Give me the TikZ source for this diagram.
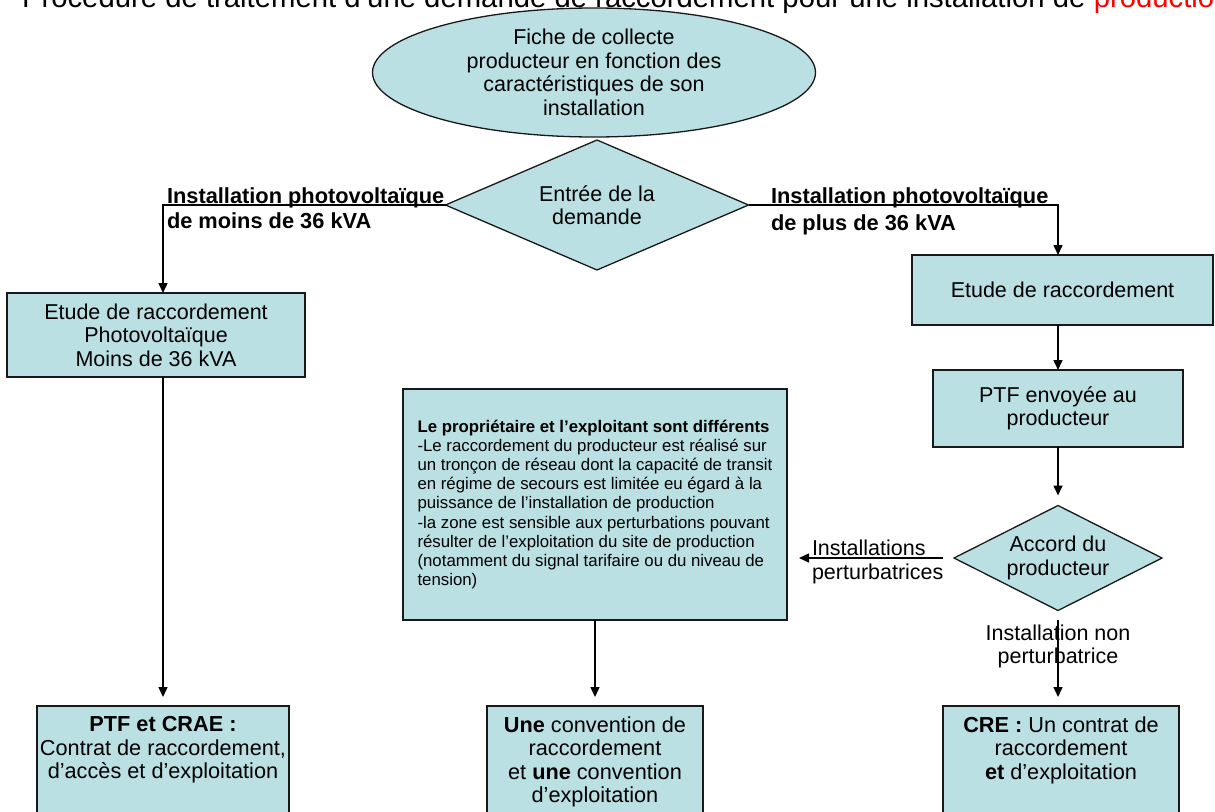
\documentclass[tikz,border=0pt]{standalone}
\usepackage{fontspec}
\setmainfont{Liberation Sans}
\usetikzlibrary{shapes.geometric,arrows.meta,calc}
\definecolor{boxfill}{RGB}{187,224,227}
\definecolor{boxline}{RGB}{25,25,25}
\begin{document}
\begin{tikzpicture}[x=1pt,y=-1pt,
  every node/.style={inner sep=0pt,outer sep=0pt},
  base/.style={draw=boxline,line width=1.3pt,fill=boxfill,align=center,font=\fontsize{21.5}{23.5}\selectfont},
  fbox/.style={base,rectangle},
  ell/.style={base,ellipse},
  dia/.style={base,diamond},
  lbl/.style={font=\bfseries\fontsize{21.8}{25}\selectfont},
  txt/.style={font=\fontsize{21.5}{23.5}\selectfont},
  btxt/.style={align=center,font=\fontsize{21.7}{23.5}\selectfont},
  arr/.style={line width=1.5pt,-{Triangle[length=10pt,width=9pt]}}]
\useasboundingbox (0,0) rectangle (1215,811);
\fill[white] (0,0) rectangle (1215,811);
\clip (0,0) rectangle (1215,811);

% title
\node[anchor=base west,font=\fontsize{29.3}{32}\selectfont] (title) at (22,8)
  {Procédure de traitement d’une demande de raccordement pour une installation de \textcolor{red}{production}};

% nodes
\node[ell,minimum width=443pt,minimum height=129pt] (fiche) at (594,72.5)
  {Fiche de collecte\\producteur en fonction des\\caractéristiques de son\\installation};
\node[dia,minimum width=303pt,minimum height=130pt,shape aspect=2.33] (entree) at (597,205)
  {Entrée de la\\demande};

\node[fbox,minimum width=298pt,minimum height=84pt] (etudeL) at (156,335)
  {Etude de raccordement\\Photovoltaïque\\Moins de 36 kVA};
\node[fbox,minimum width=301pt,minimum height=70pt] (etudeR) at (1062.5,290)
  {Etude de raccordement};
\node[fbox,minimum width=250pt,minimum height=77pt] (ptf) at (1058,408.5)
  {PTF envoyée au\\producteur};
\node[dia,minimum width=208pt,minimum height=105pt,shape aspect=1.98] (accord) at (1058,558)
  {Accord du\\producteur};

\node[fbox,align=left,minimum width=384pt,minimum height=231pt,font=\fontsize{16.8}{19.1}\selectfont] (mid) at (595,504.5)
  {\textbf{Le propriétaire et l’exploitant sont différents}\\
   -Le raccordement du producteur est réalisé sur\\
   un tronçon de réseau dont la capacité de transit\\
   en régime de secours est limitée eu égard à la\\
   puissance de l’installation de production\\
   -la zone est sensible aux perturbations pouvant\\
   résulter de l’exploitation du site de production\\
   (notamment du signal tarifaire ou du niveau de\\
   tension)};

% bottom boxes
\node[fbox,anchor=north,minimum width=252pt,minimum height=140pt] (b1) at (163,706) {};
\node[fbox,anchor=north,minimum width=216pt,minimum height=140pt] (b2) at (595,706) {};
\node[fbox,anchor=north,minimum width=236pt,minimum height=140pt] (b3) at (1061,706) {};
\node[btxt,anchor=north] (b1t) at (163,716.4)
  {\textbf{PTF et CRAE :}\\Contrat de raccordement,\\d’accès et d’exploitation};
\node[btxt,anchor=north] (b2t) at (595,716.4)
  {\textbf{Une} convention de\\raccordement\\et \textbf{une} convention\\d’exploitation};
\node[btxt,anchor=north] (b3t) at (1061,716.4)
  {\textbf{CRE :} Un contrat de\\raccordement\\\textbf{et} d’exploitation};

% labels
\node[lbl,anchor=base west] (lblL1) at (167,203) {Installation photovoltaïque};
\node[lbl,anchor=base west] (lblL2) at (167,228) {de moins de 36 kVA};
\node[lbl,anchor=base west] (lblR1) at (771,203) {Installation photovoltaïque};
\node[lbl,anchor=base west] (lblR2) at (771,230) {de plus de 36 kVA};
\node[txt,anchor=base west] (pert1) at (812,555) {Installations};
\node[txt,anchor=base west] (pert2) at (812,579) {perturbatrices};
\node[txt,anchor=base] (np1) at (1058,640) {Installation non};
\node[txt,anchor=base] (np2) at (1058,663) {perturbatrice};

% connectors
\draw[arr] (entree.west) -| ([xshift=7pt]etudeL.north);
\draw[arr] (entree.east) -| (etudeR.north -| ptf.north);
\draw[arr] (etudeR.south -| ptf.north) -- (ptf.north);
\draw[arr,shorten >=10pt] (ptf.south) -- (accord.north);
\draw[arr,shorten <=11pt,shorten >=12pt] (accord.west) -- (accord.west -| mid.east);
\draw[arr,shorten <=9pt,shorten >=9pt] (accord.south) -- (accord.south |- b3.north);
\draw[arr,shorten >=9pt] ([xshift=7pt]etudeL.south) -- (b1.north);
\draw[arr,shorten >=9pt] (mid.south) -- (b2.north);
\end{tikzpicture}
\end{document}
